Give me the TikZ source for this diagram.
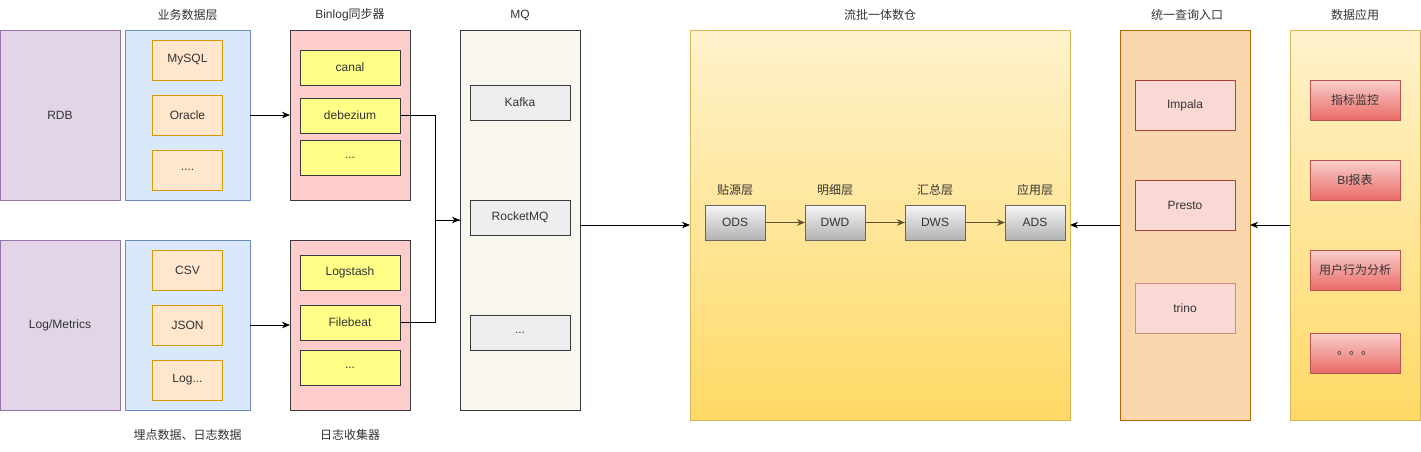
\documentclass[tikz,border=0pt]{standalone}
\usepackage{fontspec}
\setmainfont{Liberation Sans}
\newfontfamily\cjk{Noto Sans CJK SC}
\usetikzlibrary{arrows.meta}
\definecolor{purF}{HTML}{E1D5E7}\definecolor{purD}{HTML}{9673A6}
\definecolor{bluF}{HTML}{DAE8FC}\definecolor{bluD}{HTML}{6C8EBF}
\definecolor{orgF}{HTML}{FFE6CC}\definecolor{orgD}{HTML}{D79B00}
\definecolor{pnkF}{HTML}{FFCCCC}\definecolor{drk}{HTML}{36393D}
\definecolor{yelF}{HTML}{FFFF88}
\definecolor{mqF}{HTML}{F9F7ED}\definecolor{gryF}{HTML}{EEEEEE}
\definecolor{ylT}{HTML}{FFF2CC}\definecolor{ylB}{HTML}{FFD966}\definecolor{ylD}{HTML}{D6B656}
\definecolor{gT}{HTML}{F5F5F5}\definecolor{gB}{HTML}{B3B3B3}\definecolor{gD}{HTML}{666666}
\definecolor{qF}{HTML}{FAD7AC}\definecolor{qD}{HTML}{B46504}
\definecolor{rF}{HTML}{FAD9D5}\definecolor{rD}{HTML}{AE4132}
\definecolor{aT}{HTML}{F8CECC}\definecolor{aB}{HTML}{EA6B66}\definecolor{aD}{HTML}{B85450}
\definecolor{txt}{HTML}{333333}
\definecolor{inarr}{HTML}{5E5030}
\begin{document}
\begin{tikzpicture}[x=1pt,y=-1pt,
  every node/.style={font=\fontsize{12}{14}\selectfont, text=txt, inner sep=0pt, outer sep=0pt},
  bx/.style={draw, line width=1pt},
  purbox/.style={bx, draw=purD, fill=purF},
  blubox/.style={bx, draw=bluD, fill=bluF},
  orgbox/.style={bx, draw=orgD, fill=orgF, minimum width=70pt, minimum height=40pt},
  pnkbox/.style={bx, draw=drk, fill=pnkF},
  yelbox/.style={bx, draw=drk, fill=yelF, minimum width=100pt, minimum height=35pt},
  mqbox/.style={bx, draw=drk, fill=mqF},
  grybox/.style={bx, draw=drk, fill=gryF, minimum width=100pt, minimum height=35pt},
  ylbox/.style={bx, draw=ylD, top color=ylT, bottom color=ylB},
  layer/.style={bx, draw=gD, top color=gT, bottom color=gB, minimum width=60pt, minimum height=35pt},
  qbox/.style={bx, draw=qD, fill=qF},
  rbox/.style={bx, draw=rD, fill=rF, minimum width=100pt, minimum height=50pt},
  abox/.style={bx, draw=aD, top color=aT, bottom color=aB, minimum width=90pt, minimum height=40pt},
  title/.style={},
  arr/.style={line width=1pt, -{Stealth[length=8pt,width=6.5pt,inset=2.5pt]}},
  ln/.style={line width=1pt}]
\useasboundingbox (0,0) rectangle (1421,451);
% titles
\node[title] (t1) at (187.5,15) {\cjk 业务数据层};
\node[title] (t2) at (350,15) {Binlog{\cjk 同步器}};
\node[title] (t3) at (520,15) {MQ};
\node[title] (t4) at (880,15) {\cjk 流批一体数仓};
\node[title] (t5) at (1187,15) {\cjk 统一查询入口};
\node[title] (t6) at (1355,15) {\cjk 数据应用};
\node[title] (t7) at (187.5,435) {\cjk 埋点数据、日志数据};
\node[title] (t8) at (350,435) {\cjk 日志收集器};
% upper left
\node[purbox, minimum width=120pt, minimum height=170pt] (rdb) at (60,115) {RDB};
\node[blubox, minimum width=125pt, minimum height=170pt] (biz) at (187.5,115) {};
\node[orgbox] (mysql) at (187.5,60) {MySQL};
\node[orgbox] (oracle) at (187.5,115) {Oracle};
\node[orgbox] (bdots) at (187.5,170) {....};
\node[pnkbox, minimum width=120pt, minimum height=170pt] (binlog) at (350,115) {};
\node[yelbox] (canal) at (350,67.5) {canal};
\node[yelbox] (debe) at (350,115.5) {debezium};
\node[yelbox] (ld1) at (350,157.5) {...};
% lower left
\node[purbox, minimum width=120pt, minimum height=170pt] (logm) at (60,325) {Log/Metrics};
\node[blubox, minimum width=125pt, minimum height=170pt] (bury) at (187.5,325) {};
\node[orgbox] (csv) at (187.5,270) {CSV};
\node[orgbox] (json) at (187.5,325) {JSON};
\node[orgbox] (logd) at (187.5,380) {Log...};
\node[pnkbox, minimum width=120pt, minimum height=170pt] (logc) at (350,325) {};
\node[yelbox] (logstash) at (350,272.5) {Logstash};
\node[yelbox] (filebeat) at (350,322.5) {Filebeat};
\node[yelbox] (ld2) at (350,367.5) {...};
% MQ
\node[mqbox, minimum width=120pt, minimum height=380pt] (mq) at (520,220) {};
\node[grybox] (kafka) at (520,102.5) {Kafka};
\node[grybox] (rocket) at (520,217.5) {RocketMQ};
\node[grybox] (mqd) at (520,332.5) {...};
% warehouse
\node[ylbox, minimum width=380pt, minimum height=390pt] (dw) at (880,225) {};
\node[layer] (ods) at (735,222.5) {ODS};
\node[layer] (dwd) at (835,222.5) {DWD};
\node[layer] (dws) at (935,222.5) {DWS};
\node[layer] (ads) at (1035,222.5) {ADS};
\node (lods) at (735,190) {\cjk 贴源层};
\node (ldwd) at (835,190) {\cjk 明细层};
\node (ldws) at (935,190) {\cjk 汇总层};
\node (lads) at (1035,190) {\cjk 应用层};
% query
\node[qbox, minimum width=130pt, minimum height=390pt] (query) at (1185,225) {};
\node[rbox] (impala) at (1185,105) {Impala};
\node[rbox] (presto) at (1185,205) {Presto};
\node[rbox, draw=rD!60] (trino) at (1185,308) {trino};
% apps
\node[ylbox, minimum width=130pt, minimum height=390pt] (app) at (1355,225) {};
\node[abox] (m1) at (1355,100) {\cjk 指标监控};
\node[abox] (m2) at (1355,180) {BI{\cjk 报表}};
\node[abox] (m3) at (1355,270) {\cjk 用户行为分析};
\node[abox] (m4) at (1355,353) {\cjk 。。。};
% connectors
\draw[arr] (biz.east) -- (binlog.west);
\draw[arr] (bury.east) -- (logc.west |- bury.east);
\draw[ln] (debe.east) -- ++(35,0) |- (mq.west);
\draw[arr] (filebeat.east) -- ++(35,0) |- (mq.west);
\draw[arr] (mq.east |- dw.west) -- (dw.west);
\draw[arr, draw=inarr] (ods) -- (dwd);
\draw[arr, draw=inarr] (dwd) -- (dws);
\draw[arr, draw=inarr] (dws) -- (ads);
\draw[arr] (app.west) -- (query.east);
\draw[arr] (query.west) -- (dw.east);
\end{tikzpicture}
\end{document}
